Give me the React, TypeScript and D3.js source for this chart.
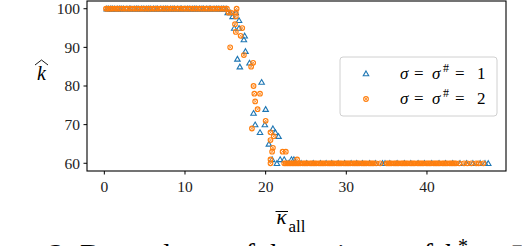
import React from 'react';
import * as d3 from 'd3';

// values
const xTicks = [0, 10, 20, 30, 40];
const yTicks = [60, 70, 80, 90, 100];

const blueTopX = [0.3, 0.5, 0.8, 1.0, 1.3, 1.6, 1.9, 2.1, 2.4, 2.8, 3.1, 3.3, 3.7, 4.0, 4.2, 4.6, 4.9, 5.2, 5.5, 5.7, 6.1, 6.4, 6.6, 7.0, 7.3, 7.6, 7.8, 8.2, 8.5, 8.7, 9.1, 9.4, 9.6, 10.0, 10.3, 10.6, 10.9, 11.2, 11.4, 11.8, 12.1, 12.3, 12.7, 13.0, 13.2, 13.6, 13.9, 14.2, 14.5, 14.8, 15.1];
const orangeTopX = [0.2, 0.4, 0.7, 0.9, 1.2, 1.5, 1.7, 2.0, 2.3, 2.6, 2.9, 3.2, 3.5, 3.8, 4.1, 4.4, 4.7, 5.0, 5.3, 5.6, 5.9, 6.2, 6.5, 6.8, 7.1, 7.4, 7.7, 8.0, 8.3, 8.6, 8.9, 9.2, 9.5, 9.8, 10.1, 10.4, 10.7, 11.0, 11.3, 11.6, 11.9, 12.2, 12.5, 12.8, 13.1, 13.4, 13.7, 14.0, 14.3, 14.6, 14.9, 15.2];

const blueDrop: [number, number][] = [
  [15.3, 99], [15.6, 99], [15.9, 98], [16.3, 99], [16.7, 97], [16.1, 95], [16.7, 95], [17.4, 93], [17.3, 92],
  [17.5, 89], [16.5, 87], [18.0, 86], [16.8, 85], [19.5, 81], [20.0, 74], [18.5, 73], [18.7, 70], [19.9, 70],
  [19.3, 68], [20.9, 69], [21.2, 68], [21.6, 67], [20.4, 65], [20.8, 61], [21.4, 60], [21.8, 61], [22.3, 61],
  [23.2, 61], [23.5, 61]
];
const orangeDrop: [number, number][] = [
  [15.4, 99], [15.7, 99], [16.3, 98], [16.4, 100], [16.3, 99], [16.2, 96], [17.1, 95], [16.3, 94], [16.9, 93],
  [15.6, 90], [17.3, 88], [18.45, 86], [18.2, 85], [18.5, 80], [18.6, 78], [19.3, 78], [18.7, 76], [19.0, 74],
  [20.0, 71], [18.3, 69], [20.6, 68], [21.0, 67], [20.6, 66], [20.9, 64], [20.8, 63], [22.1, 63], [22.5, 63],
  [20.6, 61], [20.6, 60], [23.9, 61]
];

const blueFloorX = [22.8, 23.6, 24.4, 25.1, 25.9, 26.8, 27.5, 28.2, 29.0, 29.8, 30.6, 31.3, 32.0, 32.9, 33.6, 34.5, 34.8, 35.4, 36.3, 37.2, 38.0, 38.9, 39.7, 40.6, 41.5, 42.3, 43.2, 44.1, 44.9, 45.7, 46.6, 47.2, 47.6];
const orangeFloorX = [22.3, 22.5, 22.7, 22.9, 23.1, 23.3, 23.5, 23.7, 23.9, 24.1, 24.3, 24.6, 24.8, 25.0, 25.2, 25.5, 25.7, 25.9, 26.1, 26.3, 26.6, 26.8, 27.0, 27.2, 27.4, 27.7, 27.9, 28.1, 28.3, 28.5, 28.8, 29.0, 29.2, 29.4, 29.7, 29.9, 30.1, 30.3, 30.5, 30.8, 31.0, 31.2, 31.4, 31.6, 31.9, 32.1, 32.3, 32.5, 32.8, 33.0, 33.2, 33.4, 33.7, 34.2, 35.0, 35.2, 35.4, 35.6, 35.9, 36.1, 36.3, 36.5, 36.8, 37.0, 37.2, 37.4, 37.6, 37.9, 38.1, 38.3, 38.5, 38.8, 39.0, 39.2, 39.4, 39.6, 39.9, 40.1, 40.3, 40.5, 40.8, 41.0, 41.2, 41.4, 41.6, 41.9, 42.1, 42.3, 42.5, 42.8, 43.0, 43.2, 43.4, 43.6, 44.0, 44.6, 45.0, 45.5, 46.1, 46.4, 47.0];

const BLUE = '#1f77b4';
const ORANGE = '#ff7f0e';
const FONT = '"Liberation Serif", "Times New Roman", "DejaVu Serif", serif';

const App: React.FC = () => {
  const width = 522;
  const height = 246;
  const left = 87, right = 506, top = 1, bottom = 171;

  const x = d3.scaleLinear().domain([-2.15, 49.8]).range([left, right]);
  const y = d3.scaleLinear().domain([58, 102]).range([bottom, top]);

  const blue = [...blueTopX.map(v => [v, 100]), ...blueDrop, ...blueFloorX.map(v => [v, 60])];
  const orange = [...orangeTopX.map(v => [v, 100]), ...orangeDrop, ...orangeFloorX.map(v => [v, 60])];

  const tri = d3.symbol().type(d3.symbolTriangle).size(13)()!;
  const circ = d3.symbol().type(d3.symbolCircle).size(17)()!;
  const cross = d3.symbol().type(d3.symbolX).size(7)()!;

  const triMark = (cx: number, cy: number, k: string | number) => (
    <path key={k} d={tri} transform={`translate(${cx},${cy + 0.6})`} fill="none" stroke={BLUE} strokeWidth={1.1} />
  );
  const circMark = (cx: number, cy: number, k: string | number) => (
    <g key={k} transform={`translate(${cx},${cy})`}>
      <path d={circ} fill="none" stroke={ORANGE} strokeWidth={1.1} />
      <path d={cross} fill="none" stroke={ORANGE} strokeWidth={0.8} />
    </g>
  );

  const txt = { fontFamily: FONT };

  const legendRow = (yy: number, n: number) => (
    <g style={txt} fontSize={17}>
      <text x={400} y={yy} fontStyle="italic">σ</text>
      <text x={414} y={yy}>=</text>
      <text x={432} y={yy} fontStyle="italic">σ</text>
      <text x={443} y={yy - 7} fontSize={12}>#</text>
      <text x={455} y={yy}>=</text>
      <text x={477} y={yy}>{n}</text>
    </g>
  );

  return (
    <svg width={width} height={height} style={{ position: 'absolute', left: 0, top: 0, background: '#fff', fontFamily: FONT }}>
      {/* points */}
      <g>{blue.map((d, i) => triMark(x(d[0]), y(d[1]), 'b' + i))}</g>
      <g>{orange.map((d, i) => circMark(x(d[0]), y(d[1]), 'o' + i))}</g>

      {/* frame */}
      <rect x={left} y={top} width={right - left} height={bottom - top} fill="none" stroke="#000" strokeWidth={1.1} />

      {/* x axis */}
      {xTicks.map(t => (
        <g key={'x' + t} transform={`translate(${x(t)},${bottom})`}>
          <line y2={3.5} stroke="#000" strokeWidth={1} />
          <text y={20.5} textAnchor="middle" fontSize={15.5} fill="#222" style={txt}>{t}</text>
        </g>
      ))}
      {/* y axis */}
      {yTicks.map(t => (
        <g key={'y' + t} transform={`translate(${left},${y(t)})`}>
          <line x2={-3.5} stroke="#000" strokeWidth={1} />
          <text x={-7} dy="0.34em" textAnchor="end" fontSize={15.5} fill="#222" style={txt}>{t}</text>
        </g>
      ))}

      {/* y label: k hat */}
      <text x={41.5} y={80} textAnchor="middle" fontSize={20} fontStyle="italic" style={txt}>k</text>
      <path d="M35,65 L41.5,60 L48,65" fill="none" stroke="#000" strokeWidth={0.9} />

      {/* x label: kappa bar, all */}
      <text x={281.5} y={223.5} textAnchor="middle" fontSize={21} fontStyle="italic" style={txt}>κ</text>
      <line x1={275.5} x2={288} y1={211.5} y2={211.5} stroke="#000" strokeWidth={1} />
      <text x={288.5} y={231.5} fontSize={17} style={txt}>all</text>

      {/* legend */}
      <rect x={340} y={57} width={157} height={59} rx={3} fill="#fff" fillOpacity={0.8} stroke="#d0d0d0" strokeWidth={1} />
      {triMark(366, 73.5, 'lt')}
      {circMark(366, 99, 'lc')}
      {legendRow(78.5, 1)}
      {legendRow(104, 2)}

      {/* caption, mostly cut off */}
      <text x={-37} y={264} fontSize={30} textLength={109} lengthAdjust="spacingAndGlyphs" style={txt}>Figure 3:</text>
      <text x={80} y={264} fontSize={30} textLength={353} lengthAdjust="spacingAndGlyphs" style={txt}>Dependence of the estimate of</text>
      <text x={443} y={264} fontSize={30} fontStyle="italic" style={txt}>k</text>
      <text x={458} y={253} fontSize={20} style={txt}>*</text>
      <text x={470} y={264} fontSize={30} style={txt}>on</text>
      <text x={500} y={264} fontSize={30} fontStyle="italic" style={txt}>κ̄</text>
    </svg>
  );
};

export default App;
